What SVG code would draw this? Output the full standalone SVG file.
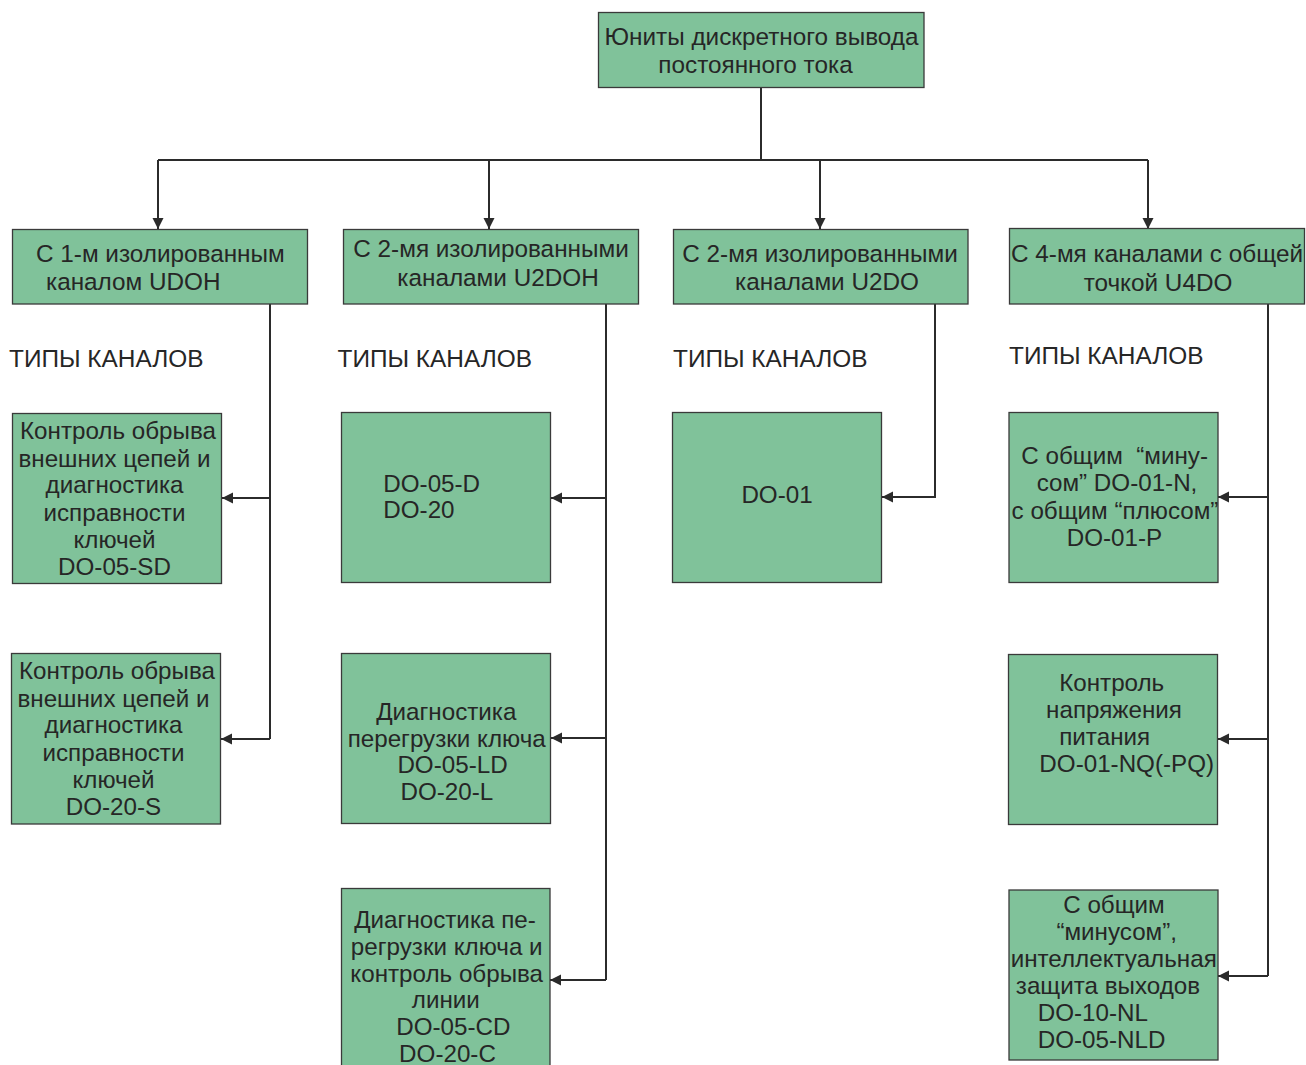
<svg xmlns="http://www.w3.org/2000/svg" width="1306" height="1065" viewBox="0 0 1306 1065">
<defs>
<style>
.box{fill:#80c29a;stroke:#3a3a3a;stroke-width:1.3}
text{font-family:"Liberation Sans",Arial,sans-serif;fill:#262626;font-size:24.2px}
.c{text-anchor:middle}
.h{font-size:24.3px}
.lbl{font-size:24.4px}
.con{fill:none;stroke:#2b2b2b;stroke-width:2}
</style>
<marker id="arr" markerUnits="userSpaceOnUse" markerWidth="12" markerHeight="12" refX="11" refY="5.5" orient="auto">
<path d="M0,0 L11,5.5 L0,11 z" fill="#2b2b2b"/>
</marker>
</defs>
<rect width="1306" height="1065" fill="#ffffff"/>

<g id="connectors">
<path class="con" d="M761,88 V160"/>
<path class="con" d="M158,160 H1148"/>
<path class="con" d="M158,160 V229" marker-end="url(#arr)"/>
<path class="con" d="M489,160 V229" marker-end="url(#arr)"/>
<path class="con" d="M820,160 V229" marker-end="url(#arr)"/>
<path class="con" d="M1148,160 V229" marker-end="url(#arr)"/>
<path class="con" d="M270,304 V739"/>
<path class="con" d="M270,498 H222" marker-end="url(#arr)"/>
<path class="con" d="M270,739 H221" marker-end="url(#arr)"/>
<path class="con" d="M606,304 V980"/>
<path class="con" d="M606,498 H551" marker-end="url(#arr)"/>
<path class="con" d="M606,738 H551" marker-end="url(#arr)"/>
<path class="con" d="M606,980 H550" marker-end="url(#arr)"/>
<path class="con" d="M935,304 V497 H882" marker-end="url(#arr)"/>
<path class="con" d="M1268,304 V976"/>
<path class="con" d="M1268,497 H1218" marker-end="url(#arr)"/>
<path class="con" d="M1268,739 H1218" marker-end="url(#arr)"/>
<path class="con" d="M1268,976 H1218" marker-end="url(#arr)"/>
</g>

<g id="root">
<rect class="box" x="598.5" y="12.5" width="325.5" height="75"/>
<text class="h c" x="761.5" y="45">Юниты дискретного вывода</text>
<text class="h c" x="755.5" y="72.5">постоянного тока</text>
</g>

<g id="udoh">
<rect class="box" x="12.5" y="229.5" width="295" height="74.5"/>
<text class="h" x="36" y="261.5">С 1-м изолированным</text>
<text class="h" x="46" y="290">каналом UDOH</text>
</g>
<g id="u2doh">
<rect class="box" x="343.5" y="229.5" width="295" height="74.5"/>
<text class="h c" x="491" y="256.5">С 2-мя изолированными</text>
<text class="h c" x="498" y="286">каналами U2DOH</text>
</g>
<g id="u2do">
<rect class="box" x="673.5" y="229.5" width="294.5" height="74.5"/>
<text class="h c" x="820" y="261.5">С 2-мя изолированными</text>
<text class="h c" x="827" y="290">каналами U2DO</text>
</g>
<g id="u4do">
<rect class="box" x="1009.5" y="228.5" width="295" height="75.5"/>
<text class="h c" x="1157" y="261.5">С 4-мя каналами с общей</text>
<text class="h c" x="1158" y="290.5">точкой U4DO</text>
</g>

<g id="labels">
<text class="lbl" x="9" y="366.5">ТИПЫ КАНАЛОВ</text>
<text class="lbl" x="337.5" y="367.3">ТИПЫ КАНАЛОВ</text>
<text class="lbl" x="673" y="366.5">ТИПЫ КАНАЛОВ</text>
<text class="lbl" x="1009" y="364">ТИПЫ КАНАЛОВ</text>
</g>

<g id="do05sd">
<rect class="box" x="12.5" y="413.5" width="209" height="170"/>
<text class="c" x="118" y="439.3">Контроль обрыва</text>
<text class="c" x="114.5" y="466.5">внешних цепей и</text>
<text class="c" x="114.5" y="493.3">диагностика</text>
<text class="c" x="114.5" y="520.5">исправности</text>
<text class="c" x="114.5" y="547.5">ключей</text>
<text class="c" x="114.5" y="574.7">DO-05-SD</text>
</g>
<g id="do20s">
<rect class="box" x="11.5" y="653.5" width="209" height="170.5"/>
<text class="c" x="117" y="679.3">Контроль обрыва</text>
<text class="c" x="113.5" y="706.5">внешних цепей и</text>
<text class="c" x="113.5" y="733.3">диагностика</text>
<text class="c" x="113.5" y="760.5">исправности</text>
<text class="c" x="113.5" y="787.5">ключей</text>
<text class="c" x="113.5" y="815">DO-20-S</text>
</g>

<g id="do05d">
<rect class="box" x="341.5" y="412.5" width="209" height="170"/>
<text x="383.3" y="491.7">DO-05-D</text>
<text x="383.3" y="518.3">DO-20</text>
</g>
<g id="do05ld">
<rect class="box" x="341.5" y="653.5" width="209" height="170"/>
<text class="c" x="446.3" y="720">Диагностика</text>
<text class="c" x="446.7" y="746.7">перегрузки ключа</text>
<text class="c" x="452.5" y="773.3">DO-05-LD</text>
<text class="c" x="446.8" y="800">DO-20-L</text>
</g>
<g id="do05cd">
<rect class="box" x="341.5" y="888.5" width="208.5" height="180"/>
<text class="c" x="445" y="928.3">Диагностика пе-</text>
<text class="c" x="446.7" y="955">регрузки ключа и</text>
<text class="c" x="446.7" y="981.7">контроль обрыва</text>
<text class="c" x="445.8" y="1008.3">линии</text>
<text class="c" x="453.3" y="1035">DO-05-CD</text>
<text class="c" x="447.5" y="1061.7">DO-20-C</text>
</g>

<g id="do01">
<rect class="box" x="672.5" y="412.5" width="209" height="170"/>
<text class="c" x="777" y="503.3">DO-01</text>
</g>

<g id="do01n">
<rect class="box" x="1009" y="412.5" width="209" height="170"/>
<text class="c" x="1114.7" y="464" xml:space="preserve">С общим  “мину-</text>
<text class="c" x="1117" y="491">сом” DO-01-N,</text>
<text class="c" x="1115" y="519">с общим “плюсом”</text>
<text class="c" x="1114.5" y="545.7">DO-01-P</text>
</g>
<g id="do01nq">
<rect class="box" x="1008.5" y="654.5" width="209" height="170"/>
<text class="c" x="1111.7" y="691">Контроль</text>
<text class="c" x="1114" y="718">напряжения</text>
<text class="c" x="1104.7" y="745">питания</text>
<text class="c" x="1126.7" y="771.7">DO-01-NQ(-PQ)</text>
</g>
<g id="do10nl">
<rect class="box" x="1009" y="890" width="209" height="170"/>
<text class="c" x="1114" y="913.3">С общим</text>
<text class="c" x="1116.7" y="940">“минусом”,</text>
<text class="c" x="1113.7" y="967.3">интеллектуальная</text>
<text class="c" x="1108" y="994">защита выходов</text>
<text x="1037.7" y="1021">DO-10-NL</text>
<text x="1037.7" y="1048.3">DO-05-NLD</text>
</g>
</svg>
